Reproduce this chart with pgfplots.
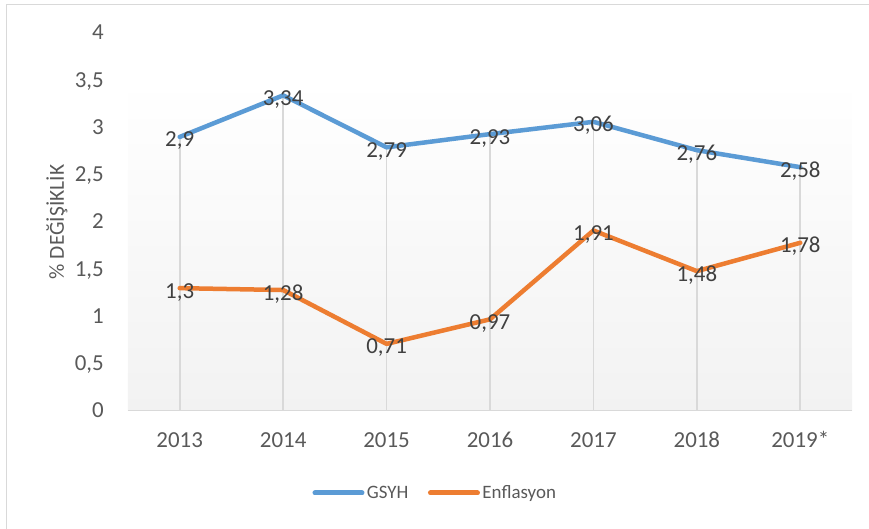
\documentclass[border=0pt]{standalone}
\usepackage{pgfplots}
\pgfplotsset{compat=1.18}
\usepackage{fontspec}
\setmainfont{Carlito}
\definecolor{gsyh}{HTML}{5B9BD5}
\definecolor{enf}{HTML}{ED7D31}
\definecolor{tickc}{HTML}{595959}
\definecolor{labc}{HTML}{404040}
\definecolor{gridc}{HTML}{D9D9D9}
\definecolor{bgb}{HTML}{F2F2F2}
\begin{document}
\begin{tikzpicture}[x=1bp,y=1bp]
\useasboundingbox (-128,-118) rectangle (741,411);
\draw[gridc, line width=1.2bp] (-121.5,-118) -- (-121.5,406.5) -- (741,406.5);
\begin{axis}[
  at={(0,0)}, anchor=south west,
  scale only axis, width=724bp, height=378bp,
  xmin=-0.5, xmax=6.5, ymin=0, ymax=4,
  axis line style={draw=none}, major tick length=0pt,
  xtick={0,1,2,3,4,5,6},
  xticklabels={2013,2014,2015,2016,2017,2018,2019*},
  ytick={0,0.5,1,1.5,2,2.5,3,3.5,4},
  /pgf/number format/.cd, use comma, assume math mode=true, /pgfplots/.cd,
  tick label style={font=\fontsize{23}{26}\selectfont, text=tickc, inner sep=0pt},
  xticklabel style={anchor=base, yshift=-37bp},
  yticklabel style={anchor=base east, xshift=-24bp, yshift=-7bp},
  every node near coord/.append style={font=\fontsize{23}{26}\selectfont, text=labc, anchor=base, inner sep=0pt, yshift=-10bp},
  legend columns=2,
  legend style={at={(axis description cs:0.4247,-0.2169)}, anchor=center, draw=none, fill=none,
    font=\fontsize{19}{22}\selectfont, text=tickc, inner sep=0pt,
    nodes={inner sep=2.5bp},
    /tikz/every even column/.append style={column sep=17bp}},
  legend image code/.code={\draw[#1, line width=5bp, line cap=round] (0bp,0bp) -- (47bp,0bp);},
]
\fill[top color=white, bottom color=bgb] (axis cs:-0.5,0) rectangle (axis cs:6.5,3.5);
\addplot[ycomb, gridc, line width=1.8bp, mark=none, forget plot] coordinates {
  (0,2.9) (1,3.34) (2,2.79) (3,2.93) (4,3.06) (5,2.76) (6,2.58)};
\draw[gridc, line width=1.8bp] (axis cs:-0.5,0) -- (axis cs:6.5,0);
\addplot[gsyh, line width=4.5bp, line join=round, line cap=round, mark=none, nodes near coords] coordinates {
  (0,2.9) (1,3.34) (2,2.79) (3,2.93) (4,3.06) (5,2.76) (6,2.58)};
\addlegendentry{GSYH}
\addplot[enf, line width=4.5bp, line join=round, line cap=round, mark=none, nodes near coords] coordinates {
  (0,1.3) (1,1.28) (2,0.71) (3,0.97) (4,1.91) (5,1.48) (6,1.78)};
\addlegendentry{Enflasyon}
\end{axis}
\node[rotate=90, font=\fontsize{21.5}{24}\selectfont, text=tickc] at (-71,189) {\% DEĞİŞİKLİK};
\end{tikzpicture}
\end{document}
